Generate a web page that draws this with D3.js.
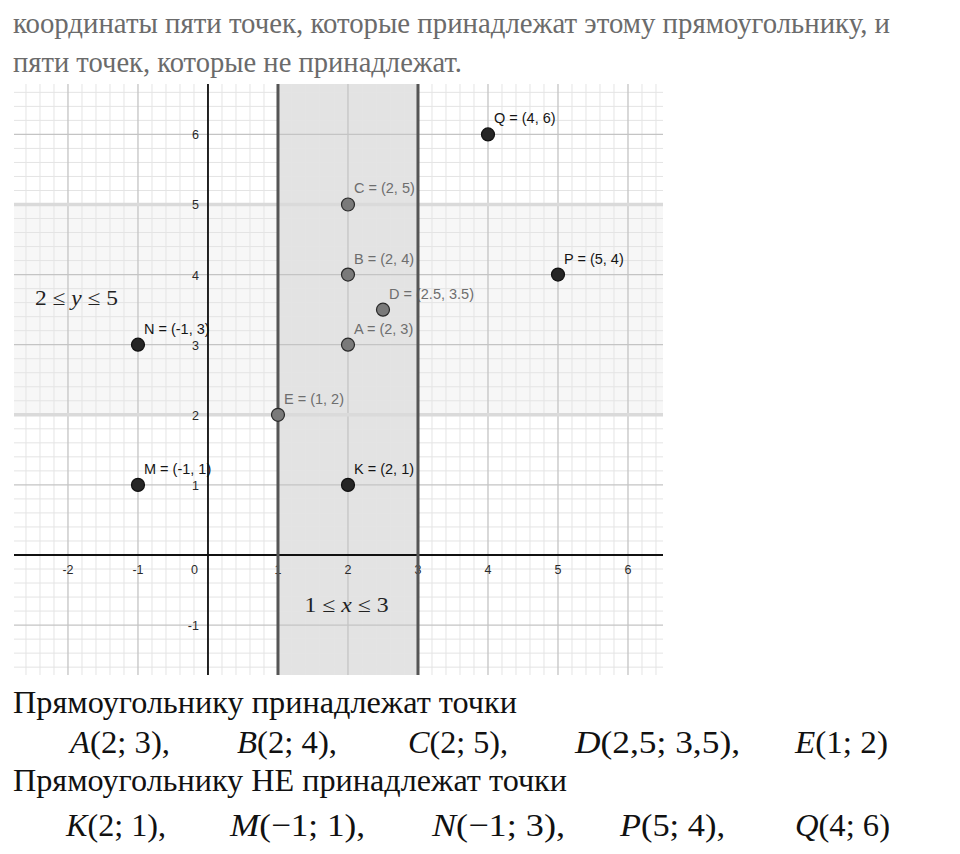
<!DOCTYPE html>
<html>
<head>
<meta charset="utf-8">
<script src="https://cdn.jsdelivr.net/npm/d3@7"></script>
<style>
html,body{margin:0;padding:0;background:#fff;}
svg{display:block;}
</style>
</head>
<body>
<svg id="c" width="960" height="854"></svg>
<script>
// ---------- data ----------
const headerLines = [
  "координаты пяти точек, которые принадлежат этому прямоугольнику, и",
  "пяти точек, которые не принадлежат."
];
const xTicks = [-2, -1, 0, 1, 2, 3, 4, 5, 6];
const yTicks = [-1, 1, 2, 3, 4, 5, 6];
const xBand = [1, 3];
const yBand = [2, 5];
const insideNames = ["A", "B", "C", "D", "E"];
const insideX = [2, 2, 2, 2.5, 1];
const insideY = [3, 4, 5, 3.5, 2];
const outsideNames = ["K", "M", "N", "P", "Q"];
const outsideX = [2, -1, -1, 5, 4];
const outsideY = [1, 1, 3, 4, 6];
const insideLabels = ["A = (2, 3)", "B = (2, 4)", "C = (2, 5)", "D = (2.5, 3.5)", "E = (1, 2)"];
const outsideLabels = ["K = (2, 1)", "M = (-1, 1)", "N = (-1, 3)", "P = (5, 4)", "Q = (4, 6)"];
const answerTitles = ["Прямоугольнику принадлежат точки", "Прямоугольнику НЕ принадлежат точки"];
const answerInside = [["A", "(2; 3),"], ["B", "(2; 4),"], ["C", "(2; 5),"], ["D", "(2,5; 3,5),"], ["E", "(1; 2)"]];
const answerOutside = [["K", "(2; 1),"], ["M", "(−1; 1),"], ["N", "(−1; 3),"], ["P", "(5; 4),"], ["Q", "(4; 6)"]];

// ---------- layout ----------
const svg = d3.select("#c");
svg.append("rect").attr("width", 960).attr("height", 854).attr("fill", "#fff");

// header
const hdrLen = [877, 449];
svg.selectAll("text.hdr").data(headerLines).join("text")
  .attr("class", "hdr")
  .attr("x", 13).attr("y", (d, i) => 33 + i * 39)
  .attr("font-family", "'Liberation Serif', 'Times New Roman', serif")
  .attr("font-size", 29)
  .attr("fill", "#6b6b6b")
  .attr("textLength", (d, i) => hdrLen[i])
  .attr("lengthAdjust", "spacingAndGlyphs")
  .text(d => d);

// plot region
const L = 14, R = 663, T = 84, B = 675;
const x = d3.scaleLinear().domain([-2.771, 6.5]).range([L, R]);
const y = d3.scaleLinear().domain([-1.712, 6.719]).range([B, T]);

svg.append("clipPath").attr("id", "clip")
  .append("rect").attr("x", L).attr("y", T).attr("width", R - L).attr("height", B - T);
const g = svg.append("g").attr("clip-path", "url(#clip)");

// y band fill
g.append("rect")
  .attr("x", L).attr("width", R - L)
  .attr("y", y(yBand[1])).attr("height", y(yBand[0]) - y(yBand[1]))
  .attr("fill", "#f7f7f7");
// x band fill
g.append("rect")
  .attr("x", x(xBand[0])).attr("width", x(xBand[1]) - x(xBand[0]))
  .attr("y", T).attr("height", B - T)
  .attr("fill", "#e3e3e3");

// grid
const minorX = d3.range(-14, 33).map(k => k * 0.2).filter(v => Math.abs(v - Math.round(v)) > 1e-6);
const minorY = d3.range(-9, 34).map(k => k * 0.2).filter(v => Math.abs(v - Math.round(v)) > 1e-6);
const majorX = d3.range(-2, 7);
const majorY = d3.range(-1, 7);

g.selectAll("line.mnx").data(minorX).join("line")
  .attr("x1", d => x(d)).attr("x2", d => x(d)).attr("y1", T).attr("y2", B)
  .attr("stroke", "#e4e4e4").attr("stroke-width", 1);
g.selectAll("line.mny").data(minorY).join("line")
  .attr("y1", d => y(d)).attr("y2", d => y(d)).attr("x1", L).attr("x2", R)
  .attr("stroke", "#e4e4e4").attr("stroke-width", 1);
g.selectAll("line.mjx").data(majorX).join("line")
  .attr("x1", d => x(d)).attr("x2", d => x(d)).attr("y1", T).attr("y2", B)
  .attr("stroke", "#c4c4c4").attr("stroke-width", 1.3);
g.selectAll("line.mjy").data(majorY).join("line")
  .attr("y1", d => y(d)).attr("y2", d => y(d)).attr("x1", L).attr("x2", R)
  .attr("stroke", "#c4c4c4").attr("stroke-width", 1.3);

// y band borders (light)
g.selectAll("line.yb").data(yBand).join("line")
  .attr("y1", d => y(d)).attr("y2", d => y(d)).attr("x1", L).attr("x2", R)
  .attr("stroke", "#dadada").attr("stroke-width", 3.5);

// point labels (drawn beneath axes and band borders)
const tickFont = "'Liberation Sans', Arial, sans-serif";
const inside = insideNames.map((n, i) => ({n, x: insideX[i], y: insideY[i], lab: insideLabels[i]}));
const outside = outsideNames.map((n, i) => ({n, x: outsideX[i], y: outsideY[i], lab: outsideLabels[i]}));
g.selectAll("text.inl").data(inside).join("text")
  .attr("x", d => x(d.x) + 6).attr("y", d => y(d.y) - 11)
  .attr("font-family", tickFont).attr("font-size", 14.5).attr("fill", "#6e6e6e")
  .text(d => d.lab);
g.selectAll("text.outl").data(outside).join("text")
  .attr("x", d => x(d.x) + 6).attr("y", d => y(d.y) - 11)
  .attr("font-family", tickFont).attr("font-size", 14.5).attr("fill", "#151515")
  .text(d => d.lab);

// tick labels
g.selectAll("text.xt").data(xTicks).join("text")
  .attr("x", d => d === 0 ? x(0) - 10 : x(d))
  .attr("y", y(0) + 19.5)
  .attr("text-anchor", d => d === 0 ? "end" : "middle")
  .attr("font-family", tickFont).attr("font-size", 12.5).attr("fill", "#2a2a2a")
  .text(d => d);
g.selectAll("text.yt").data(yTicks).join("text")
  .attr("x", x(0) - 9)
  .attr("y", d => y(d) + 5)
  .attr("text-anchor", "end")
  .attr("font-family", tickFont).attr("font-size", 12.5).attr("fill", "#2a2a2a")
  .text(d => d);

// axes
g.append("line").attr("x1", L).attr("x2", R).attr("y1", y(0)).attr("y2", y(0))
  .attr("stroke", "#111").attr("stroke-width", 1.8);
g.append("line").attr("x1", x(0)).attr("x2", x(0)).attr("y1", T).attr("y2", B)
  .attr("stroke", "#111").attr("stroke-width", 1.8);

// x band borders (dark)
g.selectAll("line.xb").data(xBand).join("line")
  .attr("x1", d => x(d)).attr("x2", d => x(d)).attr("y1", T).attr("y2", B)
  .attr("stroke", "#555").attr("stroke-width", 3);

// region labels
const mathFont = "'Liberation Serif', 'Times New Roman', serif";
function regionLabel(px, py, a, v, b, len) {
  const t = g.append("text").attr("x", px).attr("y", py)
    .attr("font-family", mathFont).attr("font-size", 21).attr("fill", "#222")
    .attr("textLength", len).attr("lengthAdjust", "spacingAndGlyphs");
  t.append("tspan").text(a + " ≤ ");
  t.append("tspan").attr("font-style", "italic").text(v);
  t.append("tspan").text(" ≤ " + b);
}
regionLabel(35, 305, yBand[0], "y", yBand[1], 83);
regionLabel(x(1.38), 612, xBand[0], "x", xBand[1], 84);

// points
g.selectAll("circle.in").data(inside).join("circle")
  .attr("cx", d => x(d.x)).attr("cy", d => y(d.y)).attr("r", 6.5)
  .attr("fill", "#7a7a7a").attr("stroke", "#2a2a2a").attr("stroke-width", 1.2);
g.selectAll("circle.out").data(outside).join("circle")
  .attr("cx", d => x(d.x)).attr("cy", d => y(d.y)).attr("r", 6.5)
  .attr("fill", "#262626").attr("stroke", "#111").attr("stroke-width", 1.2);

// ---------- answers ----------
const titleLen = [504, 554];
const titleY = [713, 791];
svg.selectAll("text.ttl").data(answerTitles).join("text")
  .attr("x", 13).attr("y", (d, i) => titleY[i])
  .attr("font-family", mathFont).attr("font-size", 31).attr("fill", "#111")
  .attr("textLength", (d, i) => titleLen[i]).attr("lengthAdjust", "spacingAndGlyphs")
  .text(d => d);

const rowInX = [70, 237, 408, 575, 795];
const rowInW = [100, 100, 100, 165, 93];
const rowOutX = [66, 230, 432, 620, 795];
const rowOutW = [100, 135, 133, 105, 95];
function answerRow(items, xs, ws, by) {
  items.forEach((it, i) => {
    const t = svg.append("text").attr("x", xs[i]).attr("y", by)
      .attr("font-family", mathFont).attr("font-size", 32).attr("fill", "#111")
      .attr("textLength", ws[i]).attr("lengthAdjust", "spacingAndGlyphs");
    t.append("tspan").attr("font-style", "italic").text(it[0]);
    t.append("tspan").text(it[1]);
  });
}
answerRow(answerInside, rowInX, rowInW, 753);
answerRow(answerOutside, rowOutX, rowOutW, 836);
</script>
</body>
</html>
